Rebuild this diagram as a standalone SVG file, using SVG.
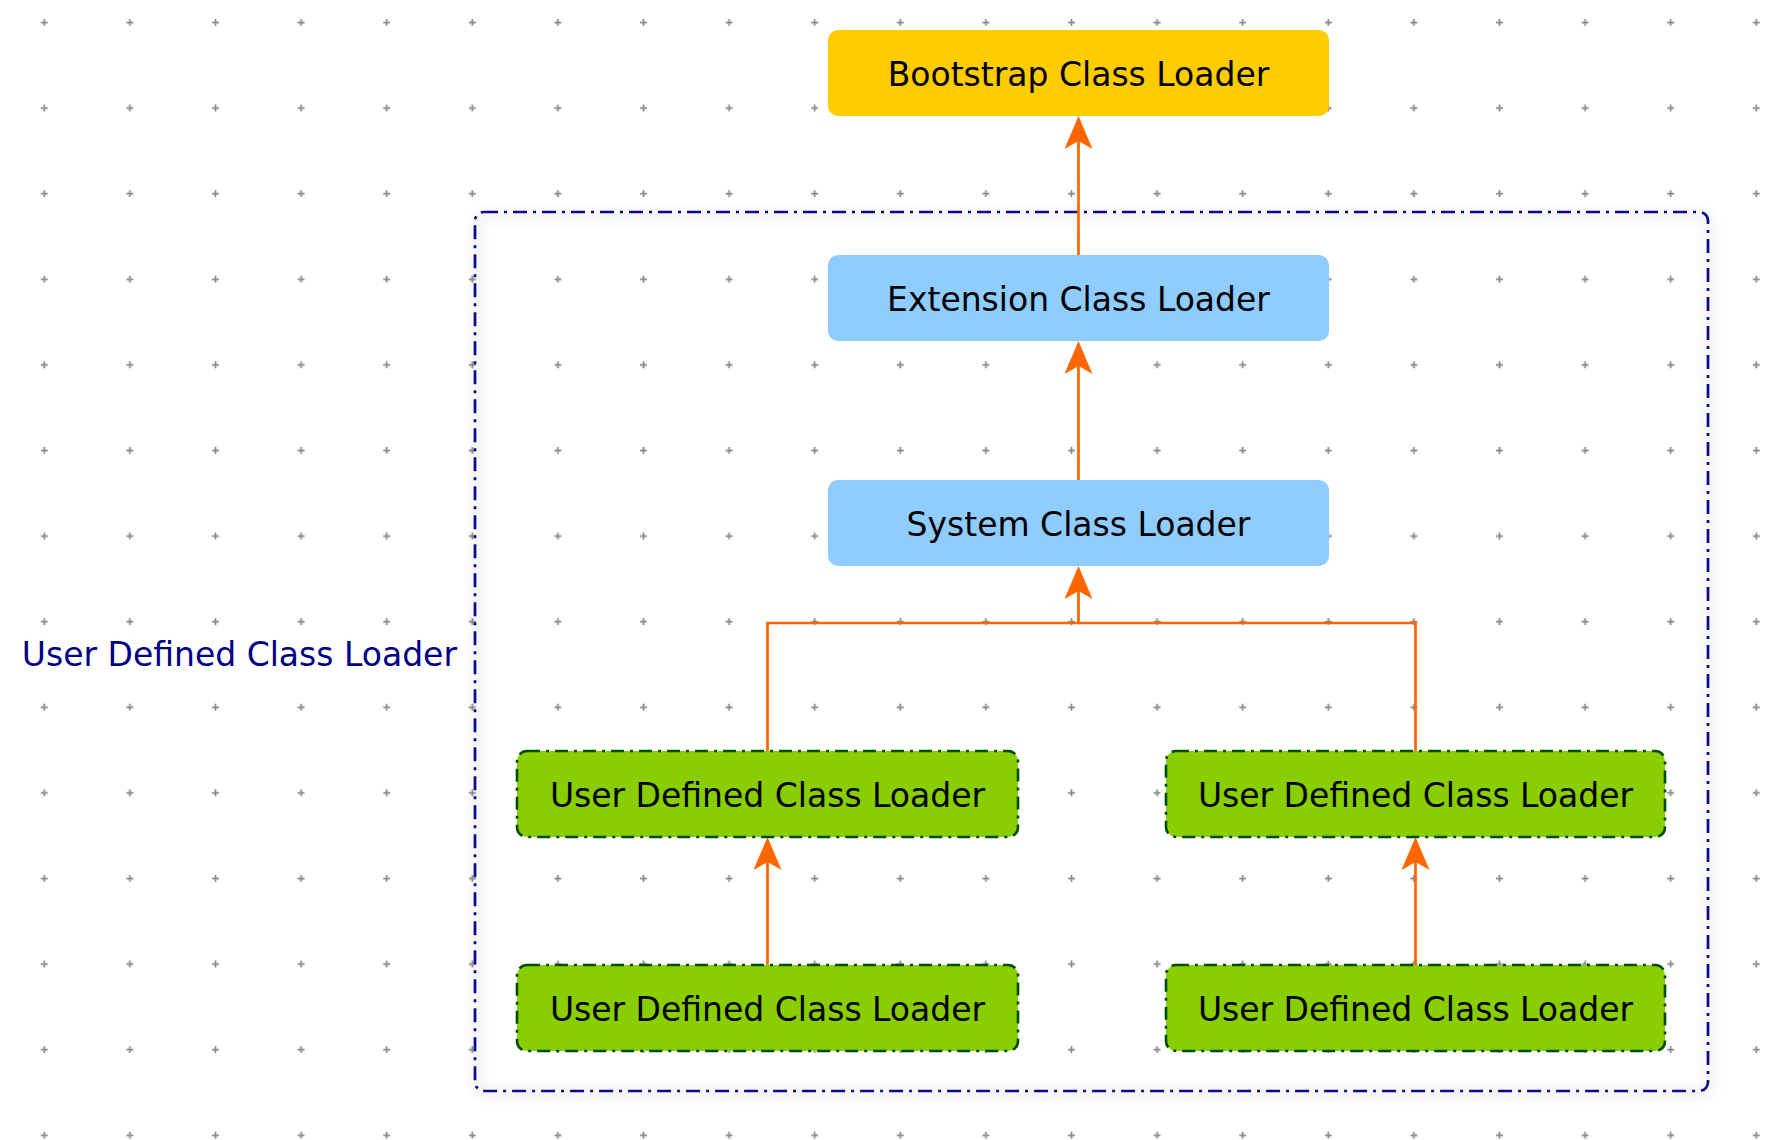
<svg xmlns="http://www.w3.org/2000/svg" width="1774" height="1140" viewBox="0 0 1774 1140">
  <style>
    .lbl { font-family: "DejaVu Sans", "Verdana", sans-serif; font-size: 33px; fill: #000000; text-anchor: middle; }
    .grp-lbl { font-family: "DejaVu Sans", "Verdana", sans-serif; font-size: 33px; fill: #000088; text-anchor: end; }
    .boot { fill: #FFCC00; }
    .blue { fill: #8FCCFF; }
    .green { fill: #88CE00; stroke: #004D00; stroke-width: 2.6; stroke-dasharray: 13 6 3 6; }
    .group { fill: none; stroke: #0A0A8C; stroke-width: 2.7; stroke-dasharray: 14 6 3 6; }
    .edge { fill: none; stroke: #FF6600; stroke-width: 2.7; }
  </style>
  <defs>
    <pattern id="grid" patternUnits="userSpaceOnUse" x="0" y="0" width="85.6" height="85.6">
      <path d="M40.8,22.5 H47.8 M44.3,19 V26" stroke="#888888" stroke-width="1.7" fill="none"/>
    </pattern>
    <marker id="arrow" viewBox="0 0 33 28" markerUnits="userSpaceOnUse" markerWidth="33" markerHeight="28" refX="23" refY="14" orient="auto">
      <path d="M0,0 L33,14 L0,28 L8,14 Z" fill="#FF6600"/>
    </marker>
    <filter id="shadow" x="-5%" y="-5%" width="110%" height="110%">
      <feGaussianBlur stdDeviation="6"/>
    </filter>
  </defs>

  <rect x="0" y="0" width="1774" height="1140" fill="#FFFFFF"/>
  <rect x="0" y="0" width="1774" height="1140" fill="url(#grid)"/>

  <g id="group-user-defined">
    <rect x="478" y="215" width="1232" height="878" rx="9" fill="none" stroke="#000000" stroke-opacity="0.07" stroke-width="8" filter="url(#shadow)"/>
    <rect class="group" x="475" y="212" width="1233" height="879" rx="9"/>
    <text class="grp-lbl" x="457" y="666">User Defined Class Loader</text>
  </g>

  <g id="connectors">
    <path class="edge" d="M1078.5,255 V126" marker-end="url(#arrow)"/>
    <path class="edge" d="M1078.5,480 V351" marker-end="url(#arrow)"/>
    <path class="edge" d="M767.5,751 V623 H1078.5 V576" marker-end="url(#arrow)"/>
    <path class="edge" d="M1415.5,751 V623 H1078.5"/>
    <path class="edge" d="M767.5,965 V847" marker-end="url(#arrow)"/>
    <path class="edge" d="M1415.5,965 V847" marker-end="url(#arrow)"/>
  </g>

  <g id="node-bootstrap">
    <rect class="boot" x="828" y="30" width="501" height="86" rx="10"/>
    <text class="lbl" x="1078.5" y="86">Bootstrap Class Loader</text>
  </g>
  <g id="node-extension">
    <rect class="blue" x="828" y="255" width="501" height="86" rx="10"/>
    <text class="lbl" x="1078.5" y="311">Extension Class Loader</text>
  </g>
  <g id="node-system">
    <rect class="blue" x="828" y="480" width="501" height="86" rx="10"/>
    <text class="lbl" x="1078.5" y="536">System Class Loader</text>
  </g>
  <g id="node-user-1">
    <rect class="green" x="517" y="751" width="501" height="86" rx="10"/>
    <text class="lbl" x="767.5" y="807">User Defined Class Loader</text>
  </g>
  <g id="node-user-2">
    <rect class="green" x="1166" y="751" width="499" height="86" rx="10"/>
    <text class="lbl" x="1415.5" y="807">User Defined Class Loader</text>
  </g>
  <g id="node-user-3">
    <rect class="green" x="517" y="965" width="501" height="86" rx="10"/>
    <text class="lbl" x="767.5" y="1021">User Defined Class Loader</text>
  </g>
  <g id="node-user-4">
    <rect class="green" x="1166" y="965" width="499" height="86" rx="10"/>
    <text class="lbl" x="1415.5" y="1021">User Defined Class Loader</text>
  </g>
</svg>
